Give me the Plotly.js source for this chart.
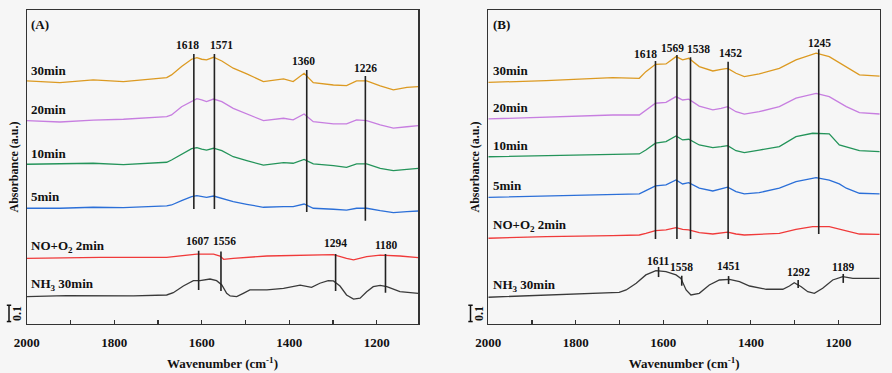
<!DOCTYPE html>
<html>
<head>
<meta charset="utf-8">
<script src="https://cdn.plot.ly/plotly-3.0.1.min.js"></script>
<style>html,body{margin:0;padding:0;background:#f6f6f6;}#chart{width:892px;height:373px;}</style>
</head>
<body>
<div id="chart"></div>
<script>
// ---------- Panel A data ----------
const wnA = [2000,1924,1848,1779,1680,1669,1646,1623,1611,1600,1589,1573,1554,1528,1497,1459,1413,1391,1366,1345,1299,1269,1246,1223,1192,1162,1131,1105];
const a30 = [1.491,1.480,1.497,1.487,1.511,1.528,1.579,1.624,1.634,1.624,1.620,1.636,1.613,1.569,1.534,1.487,1.503,1.487,1.538,1.480,1.466,1.462,1.491,1.491,1.460,1.436,1.452,1.456];
const a20 = [1.247,1.239,1.250,1.256,1.272,1.282,1.333,1.368,1.382,1.374,1.364,1.380,1.364,1.323,1.288,1.247,1.262,1.252,1.288,1.241,1.227,1.227,1.252,1.247,1.221,1.201,1.210,1.217];
const a10 = [0.980,0.982,0.986,0.977,0.992,1.006,1.043,1.076,1.082,1.072,1.067,1.078,1.063,1.026,1.002,0.975,0.990,0.986,1.010,0.982,0.971,0.961,0.982,0.982,0.955,0.941,0.949,0.955];
const a5  = [0.710,0.710,0.716,0.714,0.724,0.730,0.757,0.781,0.787,0.781,0.777,0.785,0.771,0.750,0.734,0.716,0.720,0.720,0.736,0.710,0.704,0.699,0.710,0.710,0.695,0.683,0.689,0.693];
const wnANO = [2000,1832,1680,1611,1573,1558,1550,1528,1451,1375,1299,1269,1253,1223,1192,1147,1105];
const aNO   = [0.403,0.409,0.409,0.429,0.429,0.417,0.397,0.403,0.417,0.423,0.425,0.403,0.393,0.413,0.423,0.417,0.407];
const wnANH = [2000,1909,1756,1680,1665,1642,1619,1604,1581,1566,1554,1543,1535,1520,1505,1490,1451,1413,1375,1364,1349,1330,1311,1299,1284,1269,1253,1238,1223,1208,1192,1177,1147,1105];
const aNH   = [0.168,0.174,0.172,0.178,0.192,0.233,0.266,0.266,0.276,0.266,0.239,0.188,0.172,0.168,0.188,0.209,0.209,0.219,0.239,0.233,0.225,0.250,0.266,0.264,0.233,0.178,0.153,0.158,0.198,0.229,0.237,0.229,0.198,0.188];

// peak markers panel A
const peaksA = [1618,1571,1360,1226];
const peaksATop = [1.656,1.656,1.558,1.521];
const peaksABot = [0.706,0.706,0.687,0.634];
const peaksALab = [1.712,1.712,1.613,1.571];
const peaksANH = [1607,1556,1294,1180];
const peaksANHTop = [0.450,0.444,0.429,0.429];
const peaksANHBot = [0.209,0.202,0.202,0.192];
const peaksANHLab = [0.509,0.509,0.497,0.485];

// ---------- Panel B data ----------
const wnB = [2000,1868,1716,1655,1640,1618,1594,1571,1556,1542,1518,1487,1468,1453,1434,1415,1381,1335,1297,1251,1221,1182,1152,1106];
const b30 = [1.482,1.493,1.511,1.507,1.548,1.593,1.595,1.640,1.620,1.630,1.579,1.552,1.562,1.568,1.538,1.517,1.534,1.568,1.620,1.661,1.640,1.579,1.528,1.521];
const b20 = [1.258,1.268,1.282,1.282,1.313,1.354,1.360,1.395,1.374,1.379,1.337,1.313,1.323,1.333,1.302,1.287,1.302,1.333,1.385,1.415,1.395,1.333,1.296,1.288];
const wnB10 = [2000,1868,1716,1655,1640,1618,1594,1571,1556,1542,1518,1487,1468,1453,1434,1415,1381,1335,1297,1259,1221,1198,1152,1106];
const b10 = [1.026,1.033,1.043,1.043,1.067,1.109,1.119,1.153,1.129,1.133,1.098,1.082,1.088,1.094,1.063,1.051,1.067,1.088,1.149,1.170,1.166,1.098,1.063,1.057];
const wnB5 = [2000,1868,1716,1655,1640,1618,1594,1571,1556,1542,1518,1487,1453,1434,1415,1381,1335,1297,1251,1221,1198,1182,1152,1106];
const b5  = [0.777,0.785,0.796,0.798,0.818,0.847,0.853,0.883,0.859,0.867,0.833,0.816,0.839,0.812,0.798,0.806,0.833,0.873,0.898,0.883,0.859,0.833,0.802,0.798];
const wnBNO = [2000,1868,1716,1655,1640,1618,1594,1571,1556,1542,1518,1487,1453,1434,1415,1335,1297,1259,1221,1182,1152,1106];
const bNO   = [0.526,0.536,0.542,0.546,0.556,0.573,0.577,0.591,0.581,0.577,0.560,0.552,0.563,0.552,0.546,0.556,0.581,0.597,0.597,0.573,0.552,0.550];
const wnBNH = [2000,1868,1701,1685,1662,1640,1617,1594,1571,1560,1548,1537,1518,1495,1472,1449,1426,1403,1365,1327,1312,1301,1285,1270,1255,1236,1213,1190,1167,1106];
const bNH   = [0.164,0.178,0.194,0.209,0.250,0.301,0.327,0.321,0.301,0.280,0.209,0.178,0.188,0.239,0.270,0.274,0.260,0.233,0.213,0.213,0.233,0.253,0.229,0.198,0.188,0.219,0.270,0.290,0.280,0.280];

const peaksB = [1618,1569,1538,1452,1245];
const peaksBTop = [1.613,1.650,1.636,1.609,1.685];
const peaksBBot = [0.521,0.521,0.521,0.521,0.552];
const peaksBLab = [1.655,1.691,1.685,1.661,1.726];
const peaksBNH = [1611,1558,1451,1292,1189];
const peaksBNHTop = [0.350,0.296,0.294,0.270,0.307];
const peaksBNHBot = [0.288,0.235,0.245,0.221,0.252];
const peaksBNHLab = [0.387,0.350,0.356,0.321,0.350];

const seriesNames = ['30min','20min','10min','5min','NO+O<sub>2</sub> 2min','NH<sub>3</sub> 30min'];
const labelYA = [1.554,1.313,1.043,0.781,0.474,0.245];
const labelYB = [1.552,1.327,1.092,0.847,0.607,0.239];
const colors = ['#dc9a22','#c77ee0','#24945a','#2b6fd8','#f03a3a','#3a3a3a'];
const scaleBar = 0.1;

// label pixel nudges (layout only)
const shiftA = [-6,7,-3,0], shiftANH = [-1,4,0,1];
const shiftB = [-10,-4,8,2,1], shiftBNH = [0,0,0,0,0];

const FONT = 'Liberation Serif, Times New Roman, serif';
const traces = [];
function line(x, y, color, xa, ya, w) {
  traces.push({x:x, y:y, xaxis:xa, yaxis:ya, mode:'lines', type:'scatter',
    line:{color:color, width:w||1.3}, hoverinfo:'skip', showlegend:false});
}
const seriesA = [[wnA,a30],[wnA,a20],[wnA,a10],[wnA,a5],[wnANO,aNO],[wnANH,aNH]];
const seriesB = [[wnB,b30],[wnB,b20],[wnB10,b10],[wnB5,b5],[wnBNO,bNO],[wnBNH,bNH]];
seriesA.forEach((s,i)=>line(s[0], s[1], colors[i], 'x', 'y'));
seriesB.forEach((s,i)=>line(s[0], s[1], colors[i], 'x2', 'y2'));

function markers(pk, top, bot, xa, ya) {
  const x=[], y=[];
  pk.forEach((p,i)=>{ x.push(p,p,null); y.push(top[i],bot[i],null); });
  traces.push({x:x, y:y, xaxis:xa, yaxis:ya, mode:'lines', type:'scatter',
    line:{color:'#222', width:1.6}, hoverinfo:'skip', showlegend:false, connectgaps:false});
}
markers(peaksA, peaksATop, peaksABot, 'x', 'y');
markers(peaksANH, peaksANHTop, peaksANHBot, 'x', 'y');
markers(peaksB, peaksBTop, peaksBBot, 'x2', 'y2');
markers(peaksBNH, peaksBNHTop, peaksBNHBot, 'x2', 'y2');

const ann = [];
function peakLabels(pk, ly, sh, xr, yr) {
  pk.forEach((p,i)=>ann.push({x:p, y:ly[i], xref:xr, yref:yr, text:String(p), showarrow:false, xshift:sh[i],
    xanchor:'center', yanchor:'middle', font:{family:FONT, size:11.5, color:'#111', weight:'bold'}}));
}
peakLabels(peaksA, peaksALab, shiftA, 'x', 'y');
peakLabels(peaksANH, peaksANHLab, shiftANH, 'x', 'y');
peakLabels(peaksB, peaksBLab, shiftB, 'x2', 'y2');
peakLabels(peaksBNH, peaksBNHLab, shiftBNH, 'x2', 'y2');

seriesNames.forEach((n,i)=>{
  ann.push({x:1994, y:labelYA[i], xref:'x', yref:'y', text:n, showarrow:false, xanchor:'left', yanchor:'middle',
    font:{family:FONT, size:13, color:'#111', weight:'bold'}});
  ann.push({x:1994, y:labelYB[i], xref:'x2', yref:'y2', text:n, showarrow:false, xanchor:'left', yanchor:'middle',
    font:{family:FONT, size:13, color:'#111', weight:'bold'}});
});
ann.push({x:1994, y:1.84, xref:'x', yref:'y', text:'(A)', showarrow:false, xanchor:'left', yanchor:'middle',
  font:{family:FONT, size:13, color:'#111', weight:'bold'}});
ann.push({x:1994, y:1.84, xref:'x2', yref:'y2', text:'(B)', showarrow:false, xanchor:'left', yanchor:'middle',
  font:{family:FONT, size:13, color:'#111', weight:'bold'}});

// y titles and scale bars
const domA = [26.7/892, 418.3/892];
const domB = [488.3/892, 880/892];
[['y',13.5,17.5],['y2',474.5,479.5]].forEach(([yr,tx,sx])=>{
  ann.push({x:tx/892, y:0.5, xref:'paper', yref:'paper', text:'Absorbance (a.u.)', textangle:-90,
    showarrow:false, xanchor:'center', yanchor:'middle', font:{family:FONT, size:12, color:'#111', weight:'bold'}});
  ann.push({x:sx/892, y:0.015+scaleBar/2, xref:'paper', yref:yr, text:String(scaleBar), textangle:-90,
    showarrow:false, xanchor:'center', yanchor:'middle', font:{family:FONT, size:12, color:'#111', weight:'bold'}});
});
const shapes = [];
[[9,'y'],[470.5,'y2']].forEach(([bx,yr])=>{
  const x = bx/892, w = 2.2/892;
  shapes.push({type:'line', xref:'paper', yref:yr, x0:x, x1:x, y0:0.015, y1:0.015+scaleBar, line:{color:'#111', width:1.5}});
  shapes.push({type:'line', xref:'paper', yref:yr, x0:x-w, x1:x+w, y0:0.015, y1:0.015, line:{color:'#111', width:1.5}});
  shapes.push({type:'line', xref:'paper', yref:yr, x0:x-w, x1:x+w, y0:0.015+scaleBar, y1:0.015+scaleBar, line:{color:'#111', width:1.5}});
});

const xax = (dom)=>({domain:dom, range:[2000,1105], showgrid:false, zeroline:false,
  showline:true, mirror:true, linecolor:'#333', linewidth:1.2,
  ticks:'inside', ticklen:4, tickcolor:'#333', tickwidth:1.2, dtick:200, tick0:2000,
  minor:{dtick:100, ticks:'inside', ticklen:4, tickcolor:'#333', tickwidth:1.2},
  ticklabelstandoff:6,
  tickfont:{family:FONT, size:13, color:'#111', weight:'bold'},
  title:{text:'Wavenumber (cm<sup>-1</sup>)', font:{family:FONT, size:13, color:'#111', weight:'bold'}, standoff:10}});
const yax = (anchor)=>({range:[0,1.926], showgrid:false, zeroline:false, showticklabels:false, ticks:'',
  showline:true, mirror:true, linecolor:'#333', linewidth:1.2, anchor:anchor});

const layout = {
  width:892, height:373, margin:{l:0, r:0, t:10, b:49},
  paper_bgcolor:'#f6f6f6', plot_bgcolor:'#f6f6f6', showlegend:false,
  xaxis:Object.assign(xax(domA), {anchor:'y'}),
  xaxis2:Object.assign(xax(domB), {anchor:'y2'}),
  yaxis:yax('x'), yaxis2:yax('x2'),
  annotations:ann, shapes:shapes
};
Plotly.newPlot('chart', traces, layout, {displayModeBar:false, staticPlot:true});
</script>
</body>
</html>
